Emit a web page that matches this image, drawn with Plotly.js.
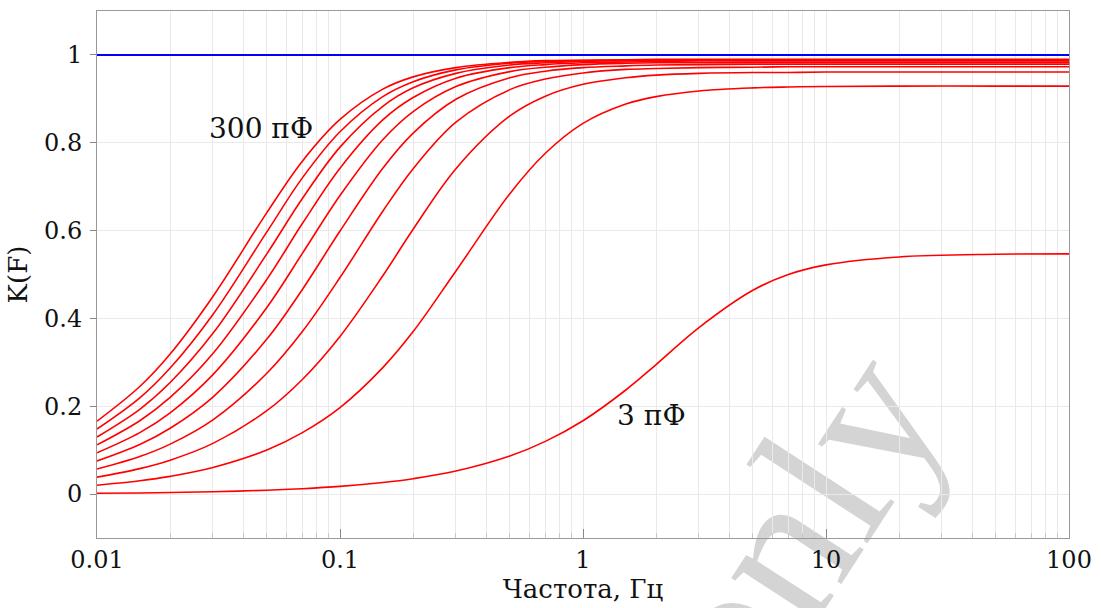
<!DOCTYPE html>
<html>
<head>
<meta charset="utf-8">
<script src="https://cdn.plot.ly/plotly-3.0.1.min.js"></script>
<style>
html,body{margin:0;padding:0;background:#fff;}
#wrap{position:relative;width:1101px;height:608px;overflow:hidden;background:#fff;}
#wm{position:absolute;left:794px;top:528px;transform:translate(-50%,-50%) rotate(-57deg);
    font-family:'Liberation Serif',serif;font-size:208px;line-height:1;color:#d4d4d4;white-space:nowrap;z-index:0;}
#chart{position:absolute;left:0;top:0;width:1101px;height:608px;z-index:1;}
</style>
</head>
<body>
<div id="wrap">
  <div id="wm"></div>
  <div id="chart"></div>
</div>
<script>
const freq = [0.01, 0.015, 0.02, 0.03, 0.05, 0.07, 0.1, 0.15, 0.2, 0.3, 0.5, 0.7, 1, 1.5, 2, 3, 5, 7, 10, 20, 50, 100];

// K(F) for each capacitance, top (300 pF) to bottom (3 pF)
const k300 = [0.166, 0.245, 0.319, 0.450, 0.641, 0.758, 0.853, 0.922, 0.950, 0.971, 0.983, 0.987, 0.988, 0.989, 0.990, 0.990, 0.990, 0.990, 0.990, 0.990, 0.990, 0.990];
const k267 = [0.148, 0.219, 0.287, 0.409, 0.597, 0.720, 0.825, 0.905, 0.939, 0.966, 0.981, 0.985, 0.987, 0.988, 0.988, 0.989, 0.989, 0.989, 0.989, 0.989, 0.989, 0.989];
const k234 = [0.130, 0.193, 0.254, 0.366, 0.547, 0.673, 0.790, 0.883, 0.925, 0.958, 0.977, 0.982, 0.985, 0.987, 0.987, 0.988, 0.988, 0.988, 0.988, 0.988, 0.988, 0.988];
const k201 = [0.112, 0.167, 0.220, 0.320, 0.489, 0.616, 0.742, 0.852, 0.903, 0.947, 0.971, 0.978, 0.982, 0.984, 0.985, 0.986, 0.986, 0.986, 0.986, 0.986, 0.986, 0.986];
const k168 = [0.094, 0.140, 0.185, 0.272, 0.425, 0.548, 0.680, 0.807, 0.871, 0.928, 0.962, 0.972, 0.978, 0.981, 0.982, 0.982, 0.983, 0.983, 0.983, 0.983, 0.983, 0.983];
const k135 = [0.0755, 0.113, 0.150, 0.221, 0.353, 0.466, 0.599, 0.742, 0.822, 0.899, 0.948, 0.963, 0.971, 0.975, 0.977, 0.978, 0.979, 0.979, 0.979, 0.979, 0.979, 0.979];
const k102 = [0.0571, 0.0855, 0.1137, 0.169, 0.275, 0.370, 0.493, 0.644, 0.741, 0.847, 0.921, 0.945, 0.959, 0.967, 0.969, 0.971, 0.972, 0.973, 0.973, 0.973, 0.973, 0.973];
const k69  = [0.0387, 0.058, 0.0772, 0.1154, 0.190, 0.261, 0.359, 0.497, 0.603, 0.741, 0.861, 0.906, 0.933, 0.948, 0.954, 0.958, 0.960, 0.960, 0.961, 0.961, 0.961, 0.961];
const k36  = [0.0202, 0.0303, 0.0404, 0.0605, 0.1004, 0.140, 0.197, 0.288, 0.370, 0.508, 0.684, 0.776, 0.844, 0.888, 0.905, 0.918, 0.925, 0.927, 0.928, 0.929, 0.929, 0.929];
const k3   = [0.00175, 0.0026, 0.0035, 0.0053, 0.0088, 0.0123, 0.0175, 0.0263, 0.0350, 0.0524, 0.0866, 0.120, 0.167, 0.237, 0.295, 0.379, 0.464, 0.500, 0.522, 0.540, 0.546, 0.547];

// Reference level (ideal transmission)
const refX = [0.01, 100];
const refY = [1, 1];

// Axis ticks
const xTickVals = [0.01, 0.1, 1, 10, 100];
const xTickText = ['0.01', '0.1', '1', '10', '100'];
const yTickVals = [0, 0.2, 0.4, 0.6, 0.8, 1];
const yTickText = ['0', '0.2', '0.4', '0.6', '0.8', '1'];

// Labels
const labelTop = '300 пФ';
const labelBottom = '3 пФ';
const xTitle = 'Частота, Гц';
const yTitle = 'K(F)';
const watermark = 'only';

document.getElementById('wm').textContent = watermark;

const redSeries = [k300, k267, k234, k201, k168, k135, k102, k69, k36, k3];

const FONT = 'DejaVu Serif, serif';
const traces = redSeries.map(ys => ({
  x: freq, y: ys, type: 'scatter', mode: 'lines',
  line: {color: '#ff0000', width: 1.6, shape: 'spline', smoothing: 1},
  hoverinfo: 'skip', showlegend: false
}));
traces.push({
  x: refX, y: refY, type: 'scatter', mode: 'lines',
  line: {color: '#0000ff', width: 2}, hoverinfo: 'skip', showlegend: false
});

const gridC = '#e9e9e9';
const layout = {
  width: 1101, height: 608,
  margin: {l: 97, r: 32, t: 11, b: 70},
  paper_bgcolor: 'rgba(0,0,0,0)', plot_bgcolor: 'rgba(0,0,0,0)',
  font: {family: FONT, color: '#111', size: 24},
  showlegend: false,
  xaxis: {
    type: 'log', range: [-2, 2],
    tickvals: xTickVals, ticktext: xTickText,
    ticks: 'inside', ticklen: 9, tickcolor: '#888', tickwidth: 1,
    showline: true, linecolor: '#999', linewidth: 1, mirror: true,
    showgrid: true, gridcolor: gridC, gridwidth: 1,
    zeroline: false,
    tickfont: {family: FONT, size: 24, color: '#111'},
    minor: {dtick: 'D1', showgrid: true, gridcolor: gridC, gridwidth: 1, ticks: 'inside', ticklen: 5, tickcolor: '#c8c8c8'},
    title: {text: xTitle, font: {family: FONT, size: 26, color: '#111'}, standoff: 4}
  },
  yaxis: {
    range: [-0.1, 1.1],
    tickvals: yTickVals, ticktext: yTickText,
    ticks: 'outside', ticklen: 6, tickcolor: '#888', tickwidth: 1,
    ticklabelstandoff: 3,
    showline: true, linecolor: '#999', linewidth: 1, mirror: true,
    showgrid: true, gridcolor: gridC, gridwidth: 1,
    zeroline: false,
    tickfont: {family: FONT, size: 24, color: '#111'},
    title: {text: yTitle, font: {family: FONT, size: 26, color: '#111'}, standoff: 8}
  },
  annotations: [
    {x: Math.log10(0.0473), y: 0.833, xref: 'x', yref: 'y', text: labelTop, showarrow: false,
     font: {family: FONT, size: 28, color: '#111'}},
    {x: Math.log10(1.92), y: 0.178, xref: 'x', yref: 'y', text: labelBottom, showarrow: false,
     font: {family: FONT, size: 28, color: '#111'}}
  ]
};

Plotly.newPlot('chart', traces, layout, {displayModeBar: false, staticPlot: true});
</script>
</body>
</html>
